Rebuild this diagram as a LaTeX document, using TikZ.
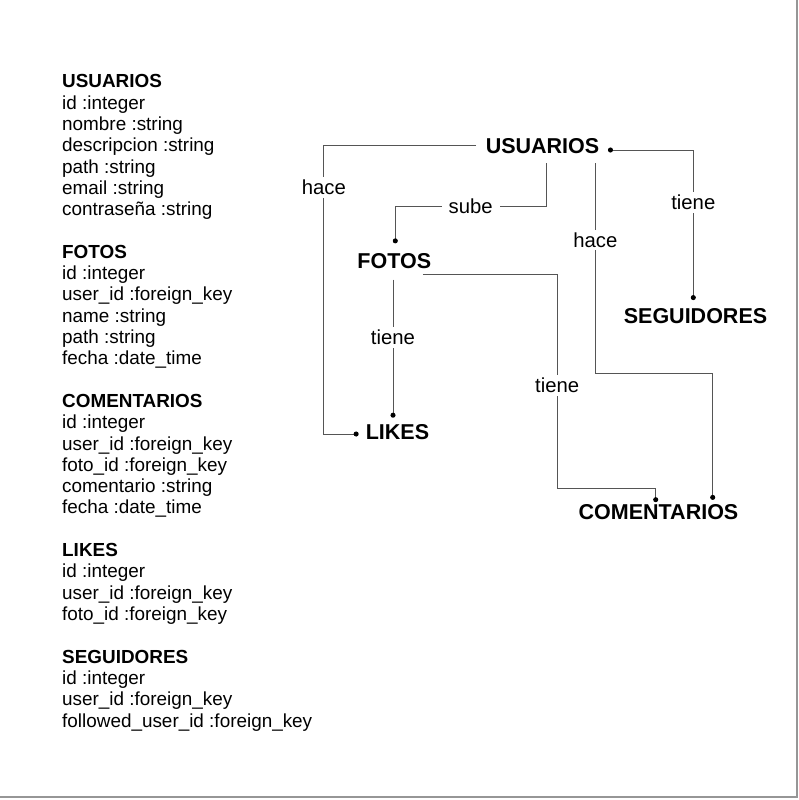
\documentclass[tikz,border=0pt]{standalone}
\usepackage{fontspec}
\setmainfont{Liberation Sans}
\usetikzlibrary{arrows.meta,calc}

\definecolor{linegray}{RGB}{85,85,85}
\definecolor{framegray}{RGB}{150,150,150}

\tikzset{
  tabla/.style={anchor=base west, align=left, inner sep=0pt, font=\fontsize{18.9}{21.3}\selectfont},
  entidad/.style={inner sep=0pt, font=\fontsize{21.5}{24}\selectfont\bfseries},
  rel/.style={draw=linegray, line width=1pt},
  dot/.style={-{Circle[length=5pt,color=black]}},
  etiqueta/.style={fill=white, inner xsep=7pt, inner ysep=3pt, font=\fontsize{20.3}{22}\selectfont},
}

\begin{document}
\begin{tikzpicture}[x=1pt,y=-1pt]
	\useasboundingbox (0,0) rectangle (798,800);
	\draw[framegray, line width=2pt] (797,0) -- (797,797) -- (0,797);

	% tablas (ancladas en la ultima linea)
	\node[tabla] (usuariosT) at (62,215.6) {\textbf{USUARIOS}\\id :integer\\nombre :string\\descripcion :string\\path :string\\email :string\\contraseña :string};
	\node[tabla] (fotosT) at (62,364.7) {\textbf{FOTOS}\\id :integer\\user\_id :foreign\_key\\name :string\\path :string\\fecha :date\_time};
	\node[tabla] (comentariosT) at (62,513.9) {\textbf{COMENTARIOS}\\id :integer\\user\_id :foreign\_key\\foto\_id :foreign\_key\\comentario :string\\fecha :date\_time};
	\node[tabla] (likesT) at (62,620.5) {\textbf{LIKES}\\id :integer\\user\_id :foreign\_key\\foto\_id :foreign\_key};
	\node[tabla] (seguidoresT) at (62,727) {\textbf{SEGUIDORES}\\id :integer\\user\_id :foreign\_key\\followed\_user\_id :foreign\_key};

	% entidades
	\node[entidad] (usuarios) at (542.5,146.3) {USUARIOS};
	\node[entidad] (fotos) at (394.3,260.7) {FOTOS};
	\node[entidad] (likes) at (397.5,432) {LIKES};
	\node[entidad] (seguidores) at (695.5,315.7) {SEGUIDORES};
	\node[entidad] (comentarios) at (658.5,512.5) {COMENTARIOS};

	% relaciones
	\draw[rel,dot] ([xshift=-9.5pt,yshift=1pt]usuarios.west) -- ++(-152.2,0) |- node[etiqueta,pos=.073] {hace} ([xshift=-7pt,yshift=-2pt]likes.west);
	\draw[rel,dot] ([xshift=3.5pt,yshift=-9pt]usuarios.south) -- ++(0,43.4) -| node[etiqueta,pos=.25] {sube} ([xshift=1pt,yshift=9.5pt]fotos.north);
	\draw[rel,{Circle[length=5pt,color=black]}-{Circle[length=5pt,color=black]}] ([xshift=8.5pt,yshift=-3.7pt]usuarios.east) -| node[etiqueta,pos=.675] {tiene} ([xshift=-2.2pt,yshift=7.8pt]seguidores.north);
	\draw[rel,dot] ([xshift=52.8pt,yshift=-9pt]usuarios.south) -- node[etiqueta,pos=.365] {hace} ++(0,210.7) -| ([xshift=54.2pt,yshift=4.8pt]comentarios.north);
	\draw[rel,dot] ([xshift=-1.3pt,yshift=-11pt]fotos.south) -- node[etiqueta,pos=.417] {tiene} ([xshift=-1.3pt,yshift=6.5pt]fotos.south |- likes.north);
	\draw[rel,dot] ([xshift=-8.4pt,yshift=-6pt]fotos.south east) -- ++(134.2,0) -- node[etiqueta,pos=.517] {tiene} ++(0,214) -| ([xshift=-2.8pt,yshift=2.5pt]comentarios.north);
\end{tikzpicture}
\end{document}
